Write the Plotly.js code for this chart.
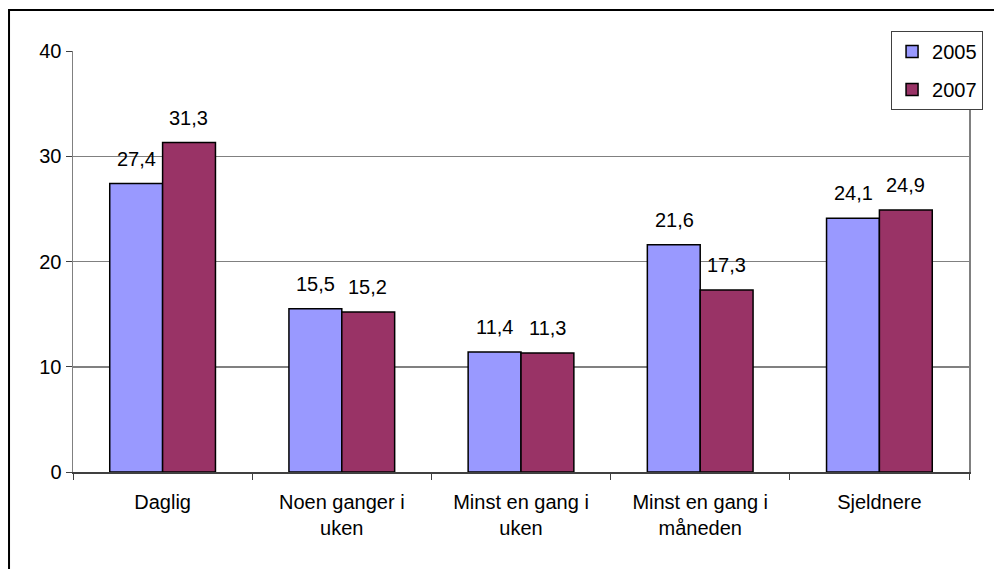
<!DOCTYPE html>
<html>
<head>
<meta charset="utf-8">
<script src="https://cdn.plot.ly/plotly-3.0.1.min.js"></script>
<style>
  html, body { margin: 0; padding: 0; background: #fff; }
  #chart { width: 994px; height: 569px; }
</style>
</head>
<body>
<div id="chart"></div>
<script>
// Frequency categories and percentages per survey year
const categories = ["Daglig", "Noen ganger i<br>uken", "Minst en gang i<br>uken", "Minst en gang i<br>måneden", "Sjeldnere"];
const years = ["2005", "2007"];
const values2005 = [27.4, 15.5, 11.4, 21.6, 24.1];
const values2007 = [31.3, 15.2, 11.3, 17.3, 24.9];
const yTicks = [0, 10, 20, 30, 40];

const fontFamily = "Liberation Sans, Arial, sans-serif";
const fontSize = 20;
const fmt = v => v.toFixed(1).replace(".", ",");

const series = [values2005, values2007];
const colors = ["#9999FF", "#993366"];

const traces = series.map((vals, i) => ({
  type: "bar",
  name: years[i],
  x: categories,
  y: vals,
  legendgroup: years[i],
  marker: { color: colors[i], line: { color: "#000", width: 1.5 } },
  hoverinfo: "skip"
}));

// Value labels above each bar, offset to the bar's slot in the group
const barSlot = 0.146;
const annotations = [];
series.forEach((vals, i) => {
  vals.forEach((v, j) => {
    annotations.push({
      x: j + (i === 0 ? -barSlot : barSlot),
      y: v,
      xref: "x", yref: "y",
      text: fmt(v),
      showarrow: false,
      yanchor: "middle",
      yshift: 25,
      font: { family: fontFamily, size: fontSize, color: "#000" }
    });
  });
});

const layout = {
  width: 994,
  height: 569,
  margin: { l: 73, r: 25, t: 51, b: 97, autoexpand: false },
  paper_bgcolor: "#fff",
  plot_bgcolor: "#fff",
  separators: ", ",
  barmode: "group",
  bargap: 0.41,
  bargroupgap: 0,
  showlegend: true,
  font: { family: fontFamily, size: fontSize, color: "#000" },
  xaxis: {
    type: "category",
    tickson: "boundaries",
    ticks: "outside",
    ticklen: 6,
    tickcolor: "#404040",
    showline: true,
    linecolor: "#404040",
    linewidth: 2,
    showgrid: false,
    ticklabelstandoff: 11,
    tickfont: { family: fontFamily, size: fontSize, color: "#000" }
  },
  yaxis: {
    range: [0, 40],
    tickvals: yTicks,
    ticktext: yTicks.map(String),
    ticks: "outside",
    ticklen: 6,
    tickcolor: "#404040",
    showline: true,
    mirror: true,
    linecolor: "#808080",
    linewidth: 1.5,
    showgrid: true,
    gridcolor: "#808080",
    gridwidth: 1.5,
    zeroline: false,
    tickfont: { family: fontFamily, size: fontSize, color: "#000" }
  },
  legend: {
    x: 0.913, y: 1.0475,
    xanchor: "left", yanchor: "top",
    bgcolor: "#fff",
    bordercolor: "#404040",
    borderwidth: 1,
    tracegroupgap: 9,
    itemwidth: 30,
    font: { family: fontFamily, size: fontSize, color: "#000" }
  },
  annotations: annotations,
  shapes: [{
    type: "rect",
    xref: "paper", yref: "paper",
    x0: -0.0714, x1: 1.2,
    y0: -0.4, y1: 1.0974,
    line: { color: "#000", width: 2 },
    fillcolor: "rgba(0,0,0,0)",
    layer: "above"
  }]
};

Plotly.newPlot("chart", traces, layout, { staticPlot: true, displayModeBar: false });
</script>
</body>
</html>
